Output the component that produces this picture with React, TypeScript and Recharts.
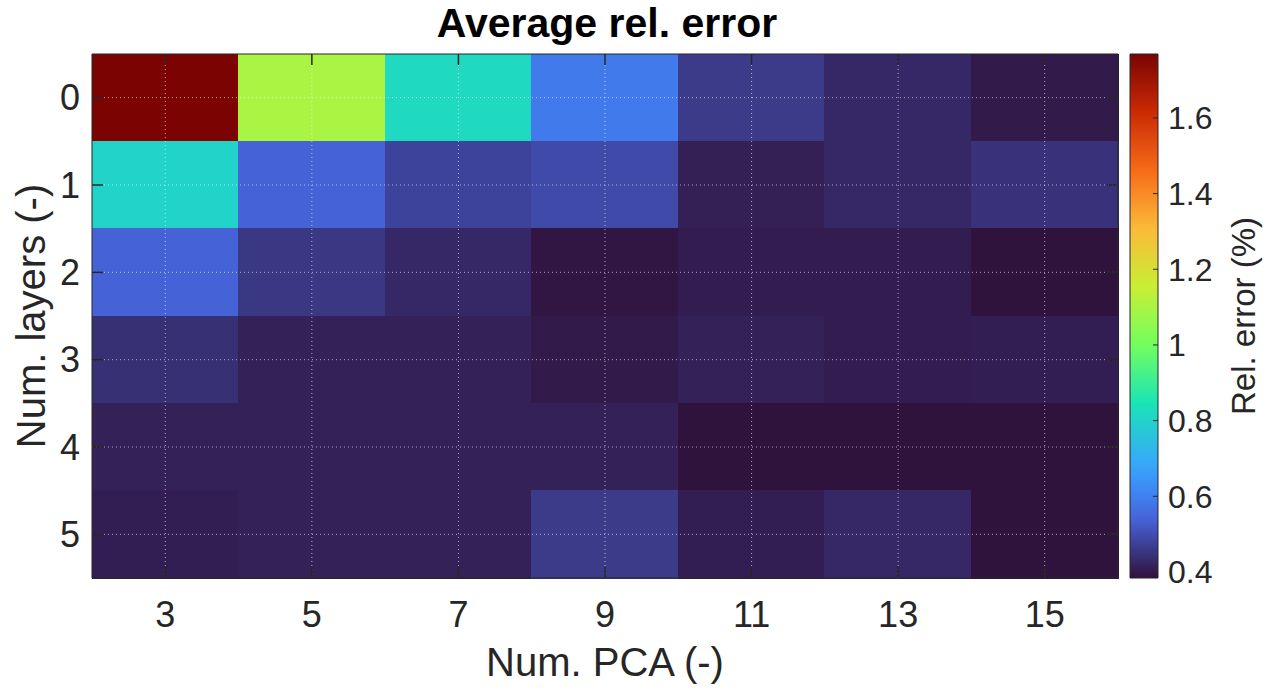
import React from "react";
import {
  ScatterChart,
  Scatter,
  XAxis,
  YAxis,
  ReferenceArea,
  ReferenceLine,
} from "recharts";

// heatmap axes
const pcaCounts = [3, 5, 7, 9, 11, 13, 15];
const layerCounts = [0, 1, 2, 3, 4, 5];

// average relative error (%) per row = num. layers, column = num. PCA
const errLayer0 = [1.768, 1.1, 0.82, 0.587, 0.462, 0.426, 0.399];
const errLayer1 = [0.8, 0.538, 0.478, 0.493, 0.41, 0.426, 0.446];
const errLayer2 = [0.538, 0.455, 0.427, 0.392, 0.404, 0.404, 0.386];
const errLayer3 = [0.441, 0.413, 0.413, 0.4, 0.413, 0.404, 0.408];
const errLayer4 = [0.413, 0.413, 0.413, 0.413, 0.386, 0.386, 0.386];
const errLayer5 = [0.408, 0.413, 0.413, 0.462, 0.408, 0.427, 0.386];
const errRows = [errLayer0, errLayer1, errLayer2, errLayer3, errLayer4, errLayer5];

const barTicks = [0.4, 0.6, 0.8, 1, 1.2, 1.4, 1.6];
const minErr = 0.384;
const maxErr = 1.769;

// turbo colormap anchors
const turboStops: [number, string][] = [
  [0, "#30123b"],
  [1 / 9, "#4662d7"],
  [1 / 6, "#3e88f5"],
  [2 / 9, "#36aaf9"],
  [3 / 9, "#1ae4b6"],
  [4 / 9, "#72fe5e"],
  [5 / 9, "#c8ef34"],
  [6 / 9, "#faba39"],
  [7 / 9, "#f66b19"],
  [8 / 9, "#cb2a04"],
  [1, "#7a0403"],
];

const hexRgb = (h: string) => [1, 3, 5].map((i) => parseInt(h.slice(i, i + 2), 16));

function turbo(v: number) {
  const t = Math.min(1, Math.max(0, (v - minErr) / (maxErr - minErr)));
  for (let i = 1; i < turboStops.length; i++) {
    const [t1, c1] = turboStops[i];
    if (t <= t1) {
      const [t0, c0] = turboStops[i - 1];
      const f = (t - t0) / (t1 - t0);
      const a = hexRgb(c0);
      const b = hexRgb(c1);
      return `rgb(${a.map((x, k) => Math.round(x + (b[k] - x) * f)).join(",")})`;
    }
  }
  return turboStops[turboStops.length - 1][1];
}

const cells = errRows.flatMap((row, r) =>
  row.map((v, c) => ({ x: pcaCounts[c], y: layerCounts[r], v }))
);

const ink = "#262626";
const font = "'Liberation Sans', Arial, Helvetica, sans-serif";
const hidden = () => <g />;
const gridStyle = { stroke: "#ffffff", strokeOpacity: 0.6, strokeDasharray: "1 3" };

export default function App() {
  return (
    <div style={{ position: "absolute", left: 0, top: 0, width: 1270, height: 693, background: "#fff", fontFamily: font }}>
      <div
        style={{
          position: "absolute",
          top: 3,
          left: 0,
          width: 1214,
          textAlign: "center",
          fontSize: 41,
          lineHeight: "41px",
          fontWeight: "bold",
          color: "#000",
        }}
      >
        Average rel. error
      </div>

      <div style={{ position: "absolute", left: 0, top: 0 }}>
        <ScatterChart width={1270} height={693} margin={{ top: 54, right: 152, bottom: 0, left: 12 }}>
          <XAxis
            type="number"
            dataKey="x"
            domain={[2, 16]}
            ticks={pcaCounts}
            allowDataOverflow
            tickLine={false}
            axisLine={false}
            tickSize={0}
            tickMargin={23}
            height={115}
            tick={{ fontSize: 36, fill: ink }}
            label={{ value: "Num. PCA (-)", position: "insideBottom", offset: 17, style: { fontSize: 40, fill: ink } }}
          />
          <YAxis
            type="number"
            dataKey="y"
            domain={[-0.5, 5.5]}
            reversed
            ticks={layerCounts}
            allowDataOverflow
            tickLine={false}
            axisLine={false}
            tickSize={0}
            tickMargin={12}
            width={80}
            tick={{ fontSize: 36, fill: ink }}
            label={{
              value: "Num. layers (-)",
              angle: -90,
              position: "insideLeft",
              offset: 19,
              style: { textAnchor: "middle", fontSize: 40, fill: ink },
            }}
          />
          {cells.map((c) => (
            <ReferenceArea
              key={`${c.x}-${c.y}`}
              x1={c.x - 1}
              x2={c.x + 1}
              y1={c.y - 0.5}
              y2={c.y + 0.5}
              fill={turbo(c.v)}
              fillOpacity={1}
              stroke={turbo(c.v)}
              strokeWidth={1}
              shapeRendering="crispEdges"
              ifOverflow="visible"
            />
          ))}
          {pcaCounts.map((x) => (
            <ReferenceLine key={`gx${x}`} x={x} {...gridStyle} />
          ))}
          {layerCounts.map((y) => (
            <ReferenceLine key={`gy${y}`} y={y} {...gridStyle} />
          ))}
          {pcaCounts.map((x) => (
            <ReferenceLine key={`tb${x}`} segment={[{ x, y: 5.5 }, { x, y: 5.374 }]} stroke={ink} strokeWidth={1.5} />
          ))}
          {pcaCounts.map((x) => (
            <ReferenceLine key={`tt${x}`} segment={[{ x, y: -0.5 }, { x, y: -0.374 }]} stroke={ink} strokeWidth={1.5} />
          ))}
          {layerCounts.map((y) => (
            <ReferenceLine key={`tl${y}`} segment={[{ x: 2, y }, { x: 2.15, y }]} stroke={ink} strokeWidth={1.5} />
          ))}
          {layerCounts.map((y) => (
            <ReferenceLine key={`tr${y}`} segment={[{ x: 16, y }, { x: 15.85, y }]} stroke={ink} strokeWidth={1.5} />
          ))}
          <ReferenceArea x1={2} x2={16} y1={-0.5} y2={5.5} fill="none" stroke={ink} strokeWidth={1} ifOverflow="visible" />
          <Scatter data={cells} isAnimationActive={false} shape={hidden} />
        </ScatterChart>
      </div>

      {/* colorbar */}
      <div style={{ position: "absolute", left: 0, top: 0 }}>
        <ScatterChart width={1270} height={693} margin={{ top: 54, right: 0, bottom: 115, left: 1130 }}>
          <defs>
            <linearGradient id="turboBar" x1="0" y1="1" x2="0" y2="0">
              {turboStops.map(([t, c]) => (
                <stop key={t} offset={t} stopColor={c} />
              ))}
            </linearGradient>
          </defs>
          <XAxis type="number" dataKey="x" domain={[0, 1]} hide />
          <YAxis
            type="number"
            dataKey="y"
            orientation="right"
            domain={[minErr, maxErr]}
            ticks={barTicks}
            allowDataOverflow
            tickLine={false}
            axisLine={false}
            tickSize={0}
            tickMargin={10}
            width={112}
            tickFormatter={(v: number) => String(Number(v.toFixed(1)))}
            tick={{ fontSize: 32, fill: ink }}
            label={{
              value: "Rel. error (%)",
              angle: -90,
              position: "insideRight",
              offset: 27,
              style: { textAnchor: "middle", fontSize: 33, fill: ink },
            }}
          />
          <ReferenceArea
            x1={0}
            x2={1}
            y1={minErr}
            y2={maxErr}
            fill="url(#turboBar)"
            fillOpacity={1}
            stroke={ink}
            ifOverflow="visible"
          />
          {barTicks.map((v) => (
            <ReferenceLine key={`cb${v}`} segment={[{ x: 0.82, y: v }, { x: 1, y: v }]} stroke={ink} />
          ))}
          <Scatter data={[{ x: 0.5, y: 1 }]} isAnimationActive={false} shape={hidden} />
        </ScatterChart>
      </div>
    </div>
  );
}
